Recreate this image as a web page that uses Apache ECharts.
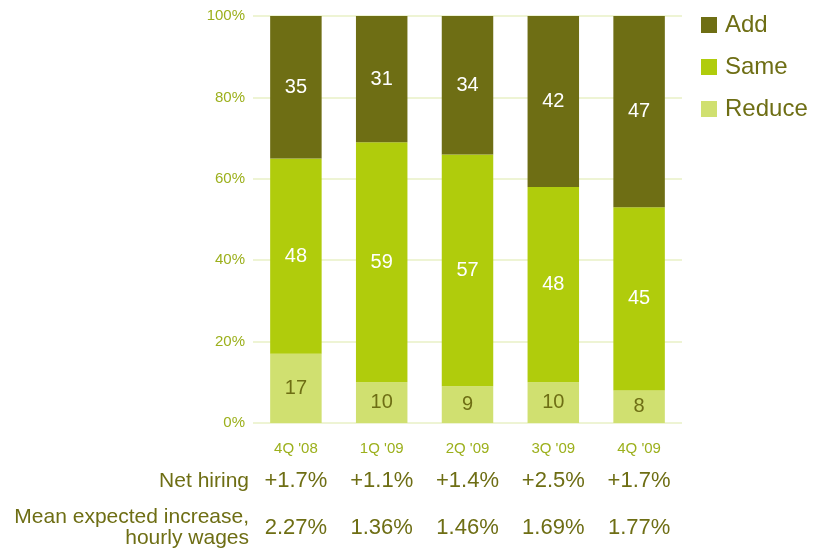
<!DOCTYPE html>
<html>
<head>
<meta charset="utf-8">
<script src="https://cdn.jsdelivr.net/npm/echarts@6/dist/echarts.min.js"></script>
<style>
  html, body { margin: 0; padding: 0; background: #ffffff; }
  #chart { width: 823px; height: 552px; }
</style>
</head>
<body>
<div id="chart"></div>
<script>
// Quarters surveyed
var quarters = ["4Q '08", "1Q '09", "2Q '09", "3Q '09", "4Q '09"];
// Share of employers planning to reduce / keep / add staff (%)
var reduceVals = [17, 10, 9, 10, 8];
var sameVals = [48, 59, 57, 48, 45];
var addVals = [35, 31, 34, 42, 47];
// Summary rows under the chart
var netHiring = ["+1.7%", "+1.1%", "+1.4%", "+2.5%", "+1.7%"];
var wageIncrease = ["2.27%", "1.36%", "1.46%", "1.69%", "1.77%"];
var yTicks = ["0%", "20%", "40%", "60%", "80%", "100%"];

var FONT = "'Liberation Sans', Arial, sans-serif";
var OLIVE = '#6e6e14';
var LIME = '#b0cc0c';
var PALE = '#d0e070';
var AXIS_TXT = '#9cb01c';

var chart = echarts.init(document.getElementById('chart'), null, { renderer: 'canvas' });

function rowAxis(values, offset, name) {
  return {
    type: 'category',
    data: values,
    position: 'bottom',
    offset: offset,
    gridIndex: 0,
    axisLine: { show: false },
    axisTick: { show: false },
    splitLine: { show: false },
    axisLabel: {
      margin: 0,
      verticalAlign: 'middle',
      color: OLIVE,
      fontSize: 22,
      fontFamily: FONT,
      interval: 0
    },
    name: name,
    nameLocation: 'start',
    nameGap: 4,
    nameTextStyle: {
      color: OLIVE,
      fontSize: 21,
      fontFamily: FONT,
      align: 'right',
      verticalAlign: 'middle',
      lineHeight: 21
    }
  };
}

var segLabel = function (color) {
  return {
    show: true,
    position: 'inside',
    color: color,
    fontSize: 20,
    fontFamily: FONT
  };
};

chart.setOption({
  animation: false,
  textStyle: { fontFamily: FONT },
  grid: { left: 253, right: 141, top: 16, bottom: 552 - 423 },
  legend: {
    orient: 'vertical',
    left: 696,
    top: 8,
    itemWidth: 16,
    itemHeight: 16,
    itemGap: 18,
    icon: 'rect',
    data: ['Add', 'Same', 'Reduce'],
    textStyle: {
      color: OLIVE,
      fontSize: 24,
      fontFamily: FONT,
      padding: [0, 0, 0, 3]
    }
  },
  xAxis: [
    {
      type: 'category',
      data: quarters,
      axisLine: { show: false },
      axisTick: { show: false },
      axisLabel: { color: AXIS_TXT, fontSize: 15, margin: 18, fontFamily: FONT }
    },
    rowAxis(netHiring, 58, 'Net hiring'),
    rowAxis(wageIncrease, 105, 'Mean expected increase,\nhourly wages')
  ],
  yAxis: {
    type: 'value',
    min: 0,
    max: 100,
    interval: 20,
    axisLine: { show: false },
    axisTick: { show: false },
    axisLabel: {
      color: AXIS_TXT,
      fontSize: 15,
      margin: 8,
      fontFamily: FONT,
      formatter: function (v) { return yTicks[Math.round(v / 20)]; }
    },
    splitLine: { lineStyle: { color: '#eef4d4', width: 2 } }
  },
  series: [
    {
      name: 'Reduce', type: 'bar', stack: 'total', barWidth: '60%',
      data: reduceVals, itemStyle: { color: PALE },
      label: segLabel(OLIVE)
    },
    {
      name: 'Same', type: 'bar', stack: 'total', barWidth: '60%',
      data: sameVals, itemStyle: { color: LIME },
      label: segLabel('#ffffff')
    },
    {
      name: 'Add', type: 'bar', stack: 'total', barWidth: '60%',
      data: addVals, itemStyle: { color: OLIVE },
      label: segLabel('#ffffff')
    }
  ]
});
</script>
</body>
</html>
